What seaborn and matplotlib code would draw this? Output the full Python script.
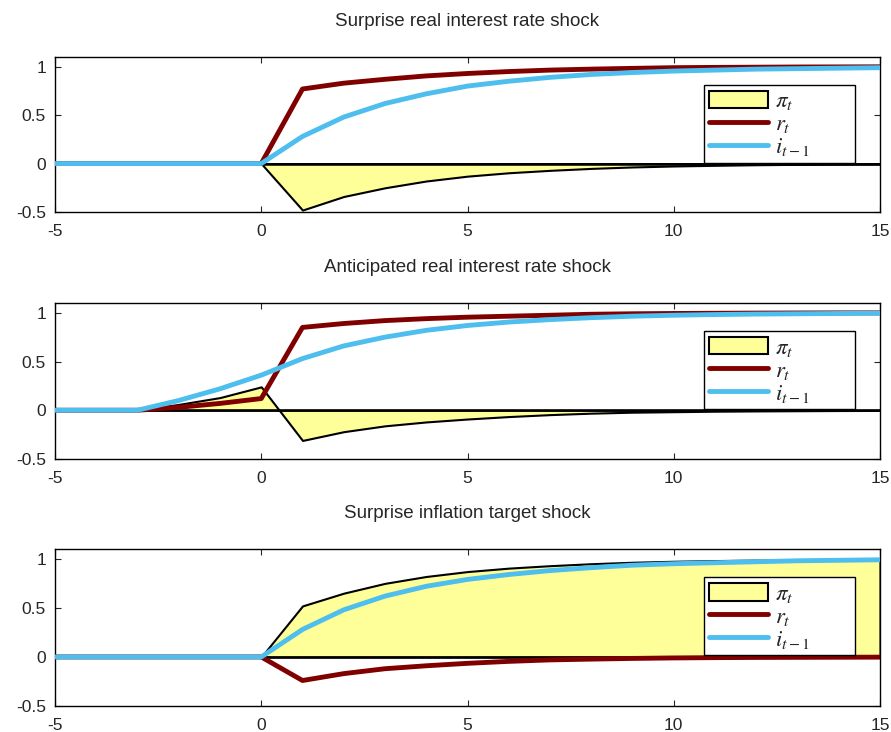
import numpy as np
import pandas as pd
import seaborn as sns
from matplotlib import pyplot as plt

# horizon
t = list(range(-5, 16))

titles = ['Surprise real interest rate shock',
          'Anticipated real interest rate shock',
          'Surprise inflation target shock']

# panel 1: surprise real rate shock
pi_1 = [0, 0, 0, 0, 0, 0, -0.48, -0.34, -0.25, -0.18, -0.13, -0.095, -0.07, -0.05, -0.035,
        -0.025, -0.018, -0.012, -0.008, -0.005, -0.003]
r_1 = [0, 0, 0, 0, 0, 0, 0.77, 0.83, 0.87, 0.905, 0.93, 0.95, 0.965, 0.975, 0.983,
       0.99, 0.993, 0.995, 0.997, 0.998, 0.999]
i_1 = [0, 0, 0, 0, 0, 0, 0.28, 0.48, 0.62, 0.72, 0.80, 0.85, 0.89, 0.92, 0.94,
       0.955, 0.965, 0.975, 0.98, 0.985, 0.99]

# panel 2: anticipated real rate shock
pi_2 = [0, 0, 0, 0.06, 0.13, 0.24, -0.31, -0.22, -0.16, -0.12, -0.09, -0.065, -0.045, -0.03, -0.02,
        -0.015, -0.01, -0.007, -0.005, -0.003, -0.002]
r_2 = [0, 0, 0, 0.03, 0.07, 0.12, 0.85, 0.89, 0.92, 0.94, 0.955, 0.965, 0.975, 0.985, 0.99,
       0.993, 0.995, 0.997, 0.998, 0.999, 0.999]
i_2 = [0, 0, 0, 0.10, 0.22, 0.36, 0.53, 0.66, 0.75, 0.82, 0.87, 0.905, 0.93, 0.95, 0.965,
       0.975, 0.982, 0.987, 0.99, 0.993, 0.995]

# panel 3: surprise inflation target shock
pi_3 = [0, 0, 0, 0, 0, 0, 0.52, 0.65, 0.75, 0.82, 0.87, 0.905, 0.93, 0.95, 0.965,
        0.975, 0.982, 0.987, 0.99, 0.993, 0.995]
r_3 = [0, 0, 0, 0, 0, 0, -0.24, -0.17, -0.12, -0.09, -0.065, -0.045, -0.03, -0.022, -0.015,
       -0.01, -0.007, -0.005, -0.004, -0.003, -0.002]
i_3 = [0, 0, 0, 0, 0, 0, 0.28, 0.48, 0.62, 0.72, 0.79, 0.84, 0.88, 0.91, 0.935,
       0.95, 0.96, 0.97, 0.98, 0.985, 0.99]

x_ticks = [-5, 0, 5, 10, 15]
y_ticks = [-0.5, 0, 0.5, 1]

sns.set_style("ticks")
plt.rcParams['font.family'] = ['Liberation Sans', 'DejaVu Sans']
plt.rcParams['mathtext.fontset'] = 'stix'

yellow = '#FFFF99'
red = '#800000'
blue = '#4DBEEE'

fig = plt.figure(figsize=(8.91, 7.32), dpi=100)
boxes = [[0.0617, 0.7104, 0.926, 0.2117],
         [0.0617, 0.373, 0.926, 0.213],
         [0.0617, 0.0355, 0.926, 0.2145]]
panels = [(pi_1, r_1, i_1), (pi_2, r_2, i_2), (pi_3, r_3, i_3)]

for box, title, (pi, r, i) in zip(boxes, titles, panels):
    ax = fig.add_axes(box)
    df = pd.DataFrame({'t': t, 'pi': pi, 'r': r, 'i': i})
    ax.fill_between(df['t'], 0, df['pi'], facecolor=yellow, edgecolor='black',
                    linewidth=1.5, label=r'$\pi_t$', zorder=1)
    ax.axhline(0, color='black', lw=1.8, zorder=1.5)
    sns.lineplot(data=df, x='t', y='r', color=red, lw=3.5, ax=ax, label=r'$r_t$', zorder=2)
    sns.lineplot(data=df, x='t', y='i', color=blue, lw=3.5, ax=ax, label=r'$i_{t-1}$', zorder=3)
    ax.set_xlim(-5, 15)
    ax.set_ylim(-0.5, 1.1)
    ax.set_xticks(x_ticks)
    ax.set_xticklabels([str(v) for v in x_ticks])
    ax.set_yticks(y_ticks)
    ax.set_yticklabels(['-0.5', '0', '0.5', '1'])
    ax.set_xlabel('')
    ax.set_ylabel('')
    ax.tick_params(direction='in', top=True, right=True, length=4, labelsize=12.5)
    ax.tick_params(axis='x', pad=8.5)
    ax.tick_params(axis='y', pad=6.5)
    for s in ax.spines.values():
        s.set_linewidth(1.0)
        s.set_color('black')
    ax.set_title(title, fontsize=13.5, pad=22)
    leg = ax.legend(loc='upper left', bbox_to_anchor=(0.787, 0.35, 0.183, 0.47),
                    mode='expand', fontsize=16.5,
                    frameon=True, fancybox=False, edgecolor='black', framealpha=1,
                    handlelength=2.6, handleheight=0.8, labelspacing=0.0,
                    borderpad=0.2, handletextpad=0.3, borderaxespad=0)
    leg.get_frame().set_linewidth(1.0)
    hs = leg.legend_handles
    hs[0].set_linewidth(1.5)
    hs[1].set_linewidth(3.5)
    hs[2].set_linewidth(3.5)

fig.savefig('out.png', dpi=100)
